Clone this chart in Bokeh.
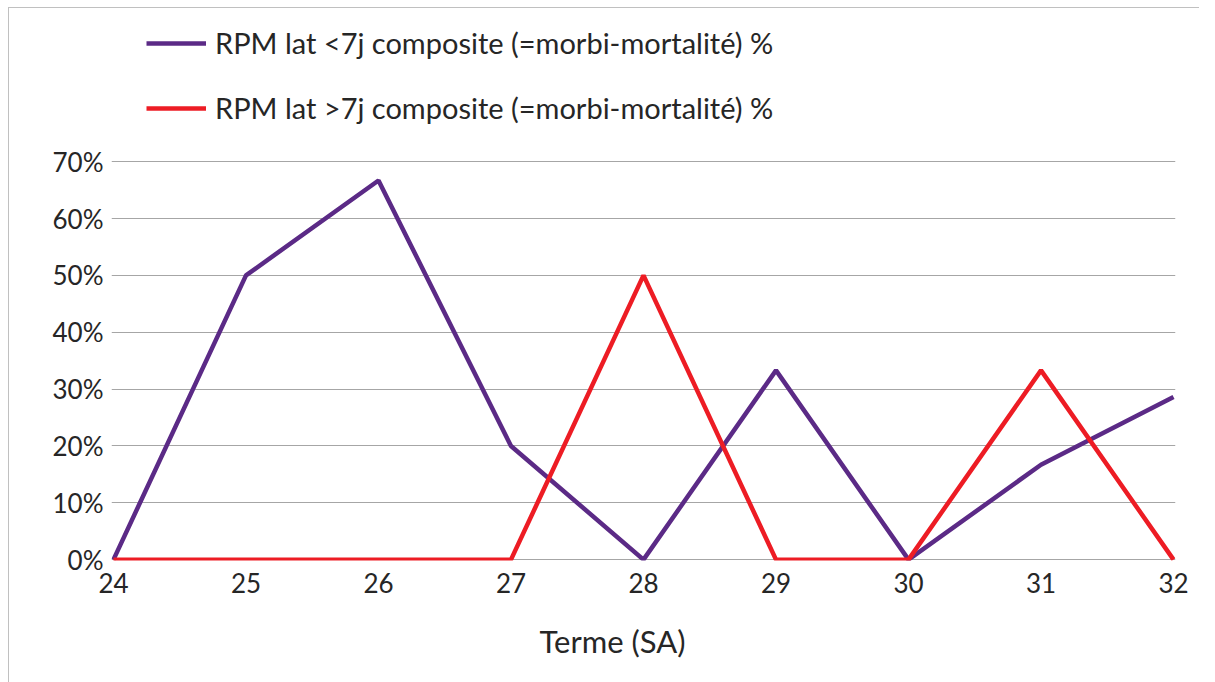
from bokeh.plotting import figure
from bokeh.models import Legend, LegendItem, Range1d, FixedTicker, NumeralTickFormatter, Title
from bokeh.embed import file_html
from bokeh.resources import INLINE

terme = [24, 25, 26, 27, 28, 29, 30, 31, 32]
lat_lt7 = [0.0, 0.50, 0.667, 0.20, 0.0, 0.333, 0.0, 0.167, 0.286]
lat_gt7 = [0.0, 0.0, 0.0, 0.0, 0.50, 0.0, 0.0, 0.333, 0.0]
y_ticks = [0.0, 0.1, 0.2, 0.3, 0.4, 0.5, 0.6, 0.7]
name_lt7 = "RPM lat <7j composite (=morbi-mortalité) %"
name_gt7 = "RPM lat >7j composite (=morbi-mortalité) %"
x_title = "Terme (SA)"

FONT = "Lato"
TXT = "#262626"

# frame extends above 70% to host the legend (gridlines only at the ticks)
p = figure(width=1191, height=675, output_backend="svg", toolbar_location=None,
           x_range=Range1d(23.985, 32.015), y_range=Range1d(-0.0015, 0.9537),
           min_border_left=102, min_border_right=25, min_border_top=9, min_border_bottom=120)
p.margin = (7, 0, 0, 8)
p.styles = {"border-left": "1px solid #c0c0c0", "border-top": "1px solid #c0c0c0"}
p.outline_line_color = None
p.background_fill_color = "white"
p.border_fill_color = "white"

p.xaxis.ticker = FixedTicker(ticks=terme)
p.yaxis.ticker = FixedTicker(ticks=y_ticks)
p.yaxis.formatter = NumeralTickFormatter(format="0%")
for ax in (p.xaxis, p.yaxis):
    ax.axis_line_color = None
    ax.major_tick_line_color = None
    ax.minor_tick_line_color = None
    ax.major_label_text_font = FONT
    ax.major_label_text_font_size = "26px"
    ax.major_label_text_color = TXT
p.yaxis.major_label_standoff = 2
p.xaxis.major_label_standoff = 6

p.xgrid.grid_line_color = None
p.ygrid.grid_line_color = "#a6a6a6"
p.ygrid.grid_line_width = 1

r1 = p.line(terme, lat_lt7, line_color="#5b2a86", line_width=4.5)
r2 = p.line(terme, lat_gt7, line_color="#ed1c24", line_width=4.5)

legend = Legend(items=[LegendItem(label=name_lt7, renderers=[r1]),
                       LegendItem(label=name_gt7, renderers=[r2])],
                location=(35, 435), orientation="vertical",
                label_text_font=FONT, label_text_font_size="29px", label_text_color=TXT,
                glyph_width=60, glyph_height=30, label_height=30, spacing=30,
                label_standoff=9, padding=0, margin=0,
                border_line_color=None, background_fill_alpha=0)
p.add_layout(legend, "center")

title = Title(text=x_title, align="left", offset=428, standoff=48,
              text_font=FONT, text_font_size="31px", text_color=TXT,
              text_font_style="normal")
p.add_layout(title, "below")

open("out.html", "w").write(file_html(p, INLINE))
